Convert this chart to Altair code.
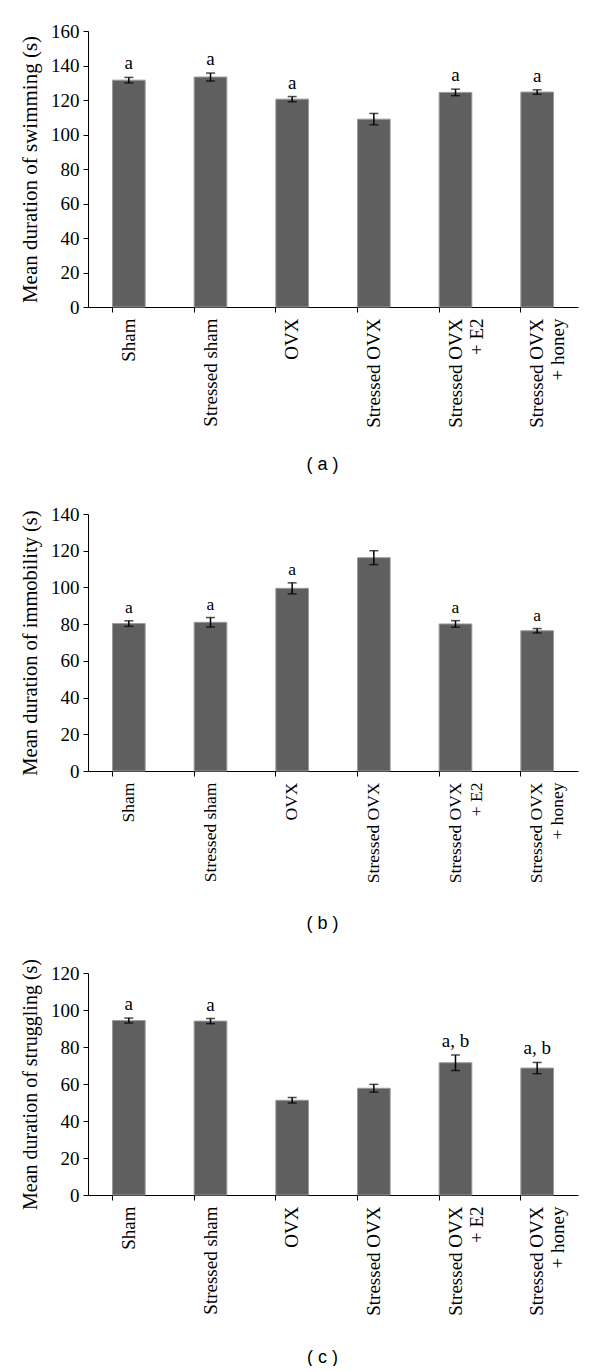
import json
import altair as alt
import pandas as pd

groups = ["Sham", "Stressed sham", "OVX", "Stressed OVX",
          "Stressed OVX + E2", "Stressed OVX + honey"]
# how the long category names break over two lines (second line is centred)
label_lines = {
    "Stressed OVX + E2": ["Stressed OVX", "+ E2"],
    "Stressed OVX + honey": ["Stressed OVX", "+ honey"],
}
line_pad = {"Stressed OVX + E2": 8, "Stressed OVX + honey": 5}

swim_mean = [131.5, 133.3, 120.5, 108.9, 124.4, 124.6]
swim_err = [1.6, 2.3, 1.5, 3.3, 1.9, 1.3]
swim_sig = ["a", "a", "a", "", "a", "a"]

immob_mean = [80.3, 81.0, 99.5, 116.2, 80.1, 76.4]
immob_err = [1.5, 2.6, 3.0, 3.8, 1.8, 1.2]
immob_sig = ["a", "a", "a", "", "a", "a"]

strug_mean = [94.3, 94.0, 51.2, 57.7, 71.5, 68.6]
strug_err = [1.35, 1.4, 1.5, 2.1, 4.2, 3.05]
strug_sig = ["a", "a", "", "", "a, b", "a, b"]

SERIF = "Liberation Serif"
SANS = "Liberation Sans"

# label expression: two-line labels, second line padded with no-break spaces to centre it
expr = "datum.label"
for key, lines in label_lines.items():
    shown = [lines[0], lines[1] + "\u00a0" * line_pad[key]]
    expr = "datum.label == %s ? %s : (%s)" % (json.dumps(key), json.dumps(shown), expr)


def panel(mean, err, sig, ymax, title, tag, height, title_size, label_size, tag_y):
    df = pd.DataFrame({
        "group": groups,
        "mean": mean,
        "lo": [m - e for m, e in zip(mean, err)],
        "hi": [m + e for m, e in zip(mean, err)],
        "sig": sig,
    })
    ticks = list(range(0, ymax + 1, 20))
    xscale = alt.Scale(domain=groups, paddingInner=0.6, paddingOuter=0.3)
    yscale = alt.Scale(domain=[0, ymax], nice=False)
    xaxis = alt.Axis(
        title=tag, titleFont=SANS, titleFontSize=18, titleFontWeight="normal",
        titleColor="black", titleX=234, titleY=tag_y, titleBaseline="middle",
        labelAngle=-90, labelAlign="right", labelBaseline="middle",
        labelExpr=expr, labelLineHeight=21,
        labelFont=SERIF, labelFontSize=label_size, labelColor="black",
        labelPadding=6, tickSize=5, tickColor="black", domainColor="black",
        bandPosition=0, labelLimit=300, labelOverlap=False,
    )
    yaxis = alt.Axis(
        title=title, values=ticks, tickCount=len(ticks), grid=False,
        labelOverlap=False,
        titleFont=SERIF, titleFontSize=title_size, titleFontWeight="normal",
        titleColor="black", titlePadding=10,
        labelFont=SERIF, labelFontSize=19, labelColor="black", labelPadding=4,
        tickSize=5, tickColor="black", domainColor="black",
    )
    x = alt.X("group:N", sort=groups, scale=xscale, axis=xaxis)
    y = alt.Y("mean:Q", scale=yscale, axis=yaxis)
    ylo = alt.Y("lo:Q", scale=yscale, axis=yaxis)
    yhi = alt.Y("hi:Q", scale=yscale, axis=yaxis)
    base = alt.Chart(df)
    bars = base.mark_bar(color="#5f5f5f", stroke="#9a9a9a", strokeWidth=1).encode(x=x, y=y)
    rule = base.mark_rule(color="black", strokeWidth=1.5).encode(x=x, y=ylo, y2="hi:Q")
    cap_lo = base.mark_tick(color="black", thickness=1.5, size=9).encode(x=x, y=ylo)
    cap_hi = base.mark_tick(color="black", thickness=1.5, size=9).encode(x=x, y=yhi)
    txt = base.mark_text(baseline="bottom", dy=-4, font=SERIF, fontSize=label_size,
                         color="black").encode(x=x, y=yhi, text="sig:N")
    return alt.layer(bars, rule, cap_lo, cap_hi, txt).properties(width=490, height=height)


pa = panel(swim_mean, swim_err, swim_sig, 160, "Mean duration of swimming (s)", "( a )",
           276, 21, 19, 157)
pb = panel(immob_mean, immob_err, immob_sig, 140, "Mean duration of immobility (s)", "( b )",
           257, 20.5, 17.5, 152)
pc = panel(strug_mean, strug_err, strug_sig, 120, "Mean duration of struggling (s)", "( c )",
           222, 20, 19, 162)

chart = alt.vconcat(alt.vconcat(pa, pb, spacing=32), pc, spacing=26).properties(
    padding={"left": 11, "top": 14, "right": 5, "bottom": 0}
).configure_view(stroke="transparent", strokeWidth=0)

chart.save("out.html", embed_options={"renderer": "svg", "actions": False})
